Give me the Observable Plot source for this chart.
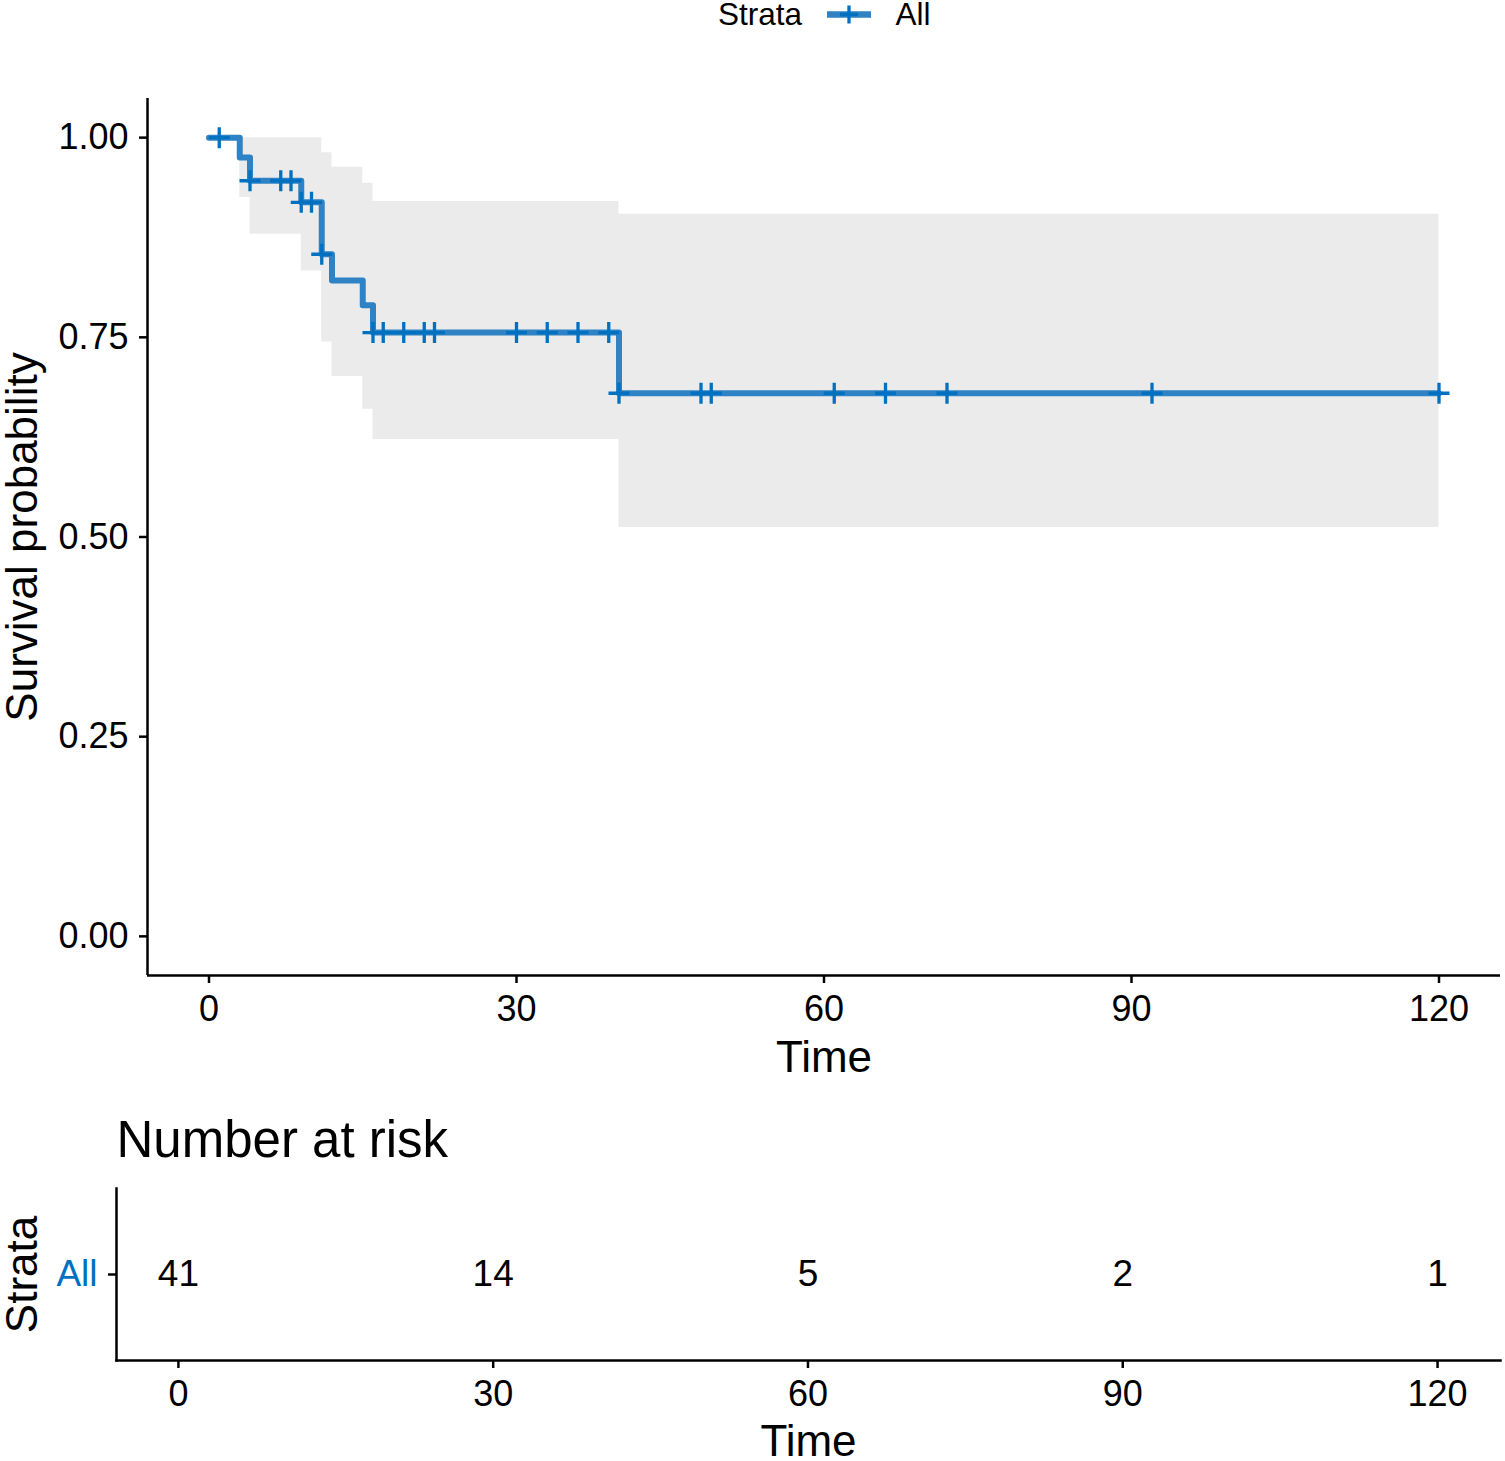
<!DOCTYPE html>
<html><head><meta charset="utf-8">
<script src="https://cdn.jsdelivr.net/npm/d3@7"></script>
<script src="https://cdn.jsdelivr.net/npm/@observablehq/plot@0.6"></script>
<style>
body{margin:0;background:#fff;}
#chart{position:relative;width:1505px;height:1461px;}
#chart svg{display:block;}
</style>
</head><body><div id="chart"></div>
<script>
// Kaplan-Meier estimate (step function)
const survTime = [0, 3, 4, 9, 11, 12, 15, 16, 40, 120];
const survProb = [1, 0.975, 0.946, 0.919, 0.854, 0.821, 0.790, 0.756, 0.680, 0.680];
// confidence band
const bandTime  = [0, 3, 4, 9, 11, 12, 15, 16, 40, 120];
const bandLower = [1, 0.925, 0.879, 0.833, 0.744, 0.701, 0.660, 0.622, 0.512, 0.512];
const bandUpper = [1, 1, 1, 1, 0.981, 0.963, 0.943, 0.920, 0.904, 0.904];
// censoring times
const censorTime = [1, 4, 7, 8, 9, 10, 11, 16, 17, 19, 21, 22, 30, 33, 36, 39, 40, 48, 49, 61, 66, 72, 92, 120];
// number at risk table
const strata = ["All"];
const riskTime = [0, 30, 60, 90, 120];
const riskN = [41, 14, 5, 2, 1];
const xTicks = [0, 30, 60, 90, 120];
const yTicks = [0, 0.25, 0.5, 0.75, 1];

const FONT = '"Liberation Sans", Arial, sans-serif';
const LINE = "#2f82c4";
const MARK = "#0070c0";

const surv = survTime.map((t, i) => ({time: t, surv: survProb[i]}));
const band = bandTime.map((t, i) => ({time: t, lower: bandLower[i], upper: bandUpper[i]}));
function survAt(t) { let s = 1; survTime.forEach((st, i) => { if (st <= t) s = survProb[i]; }); return s; }
const censors = censorTime.map(t => ({time: t, surv: survAt(t)}));
const risk = riskTime.map((t, i) => ({time: t, strata: strata[0], n: riskN[i]}));

const plusSymbol = {draw(ctx, size) { const r = Math.sqrt(size / Math.PI); ctx.moveTo(-r, 0); ctx.lineTo(r, 0); ctx.moveTo(0, -r); ctx.lineTo(0, r); }};
const hLineSymbol = {draw(ctx, size) { const r = Math.sqrt(size / Math.PI); ctx.moveTo(-r, 0); ctx.lineTo(r, 0); }};

const xDomain = [-6, 126];
const yDomain = [-0.049, 1.049];

const p1 = Plot.plot({
  width: 1505, height: 1090,
  marginTop: 98, marginBottom: 115, marginLeft: 147, marginRight: 5,
  style: {fontFamily: FONT, background: "white", overflow: "visible", color: "black"},
  x: {domain: xDomain, label: null},
  y: {domain: yDomain, label: null},
  marks: [
    Plot.areaY(band, {x: "time", y1: "lower", y2: "upper", curve: "step-after", fill: "#ebebeb"}),
    Plot.line(surv, {x: "time", y: "surv", curve: "step-after", stroke: LINE, strokeWidth: 6}),
    Plot.dot(censors, {x: "time", y: "surv", symbol: plusSymbol, r: 10.5, stroke: MARK, strokeWidth: 3.3, fill: "none"}),
    Plot.ruleX([xDomain[0]], {stroke: "black", strokeWidth: 2.5}),
    Plot.ruleY([yDomain[0]], {stroke: "black", strokeWidth: 2.5}),
    Plot.axisY({ticks: yTicks, tickFormat: d3.format(".2f"), tickSize: 8, tickPadding: 11, fontSize: 36, strokeWidth: 2.5, label: null}),
    Plot.axisX({ticks: xTicks, tickSize: 8, tickPadding: 12, fontSize: 36, strokeWidth: 2.5, label: null}),
    Plot.text(["Time"], {frameAnchor: "bottom", dy: 82, lineAnchor: "middle", textAnchor: "middle", fontSize: 44}),
    Plot.text(["Survival probability"], {frameAnchor: "left", rotate: -90, dx: -125, textAnchor: "middle", lineAnchor: "middle", fontSize: 44}),
    // legend
    Plot.text(["Strata"], {frameAnchor: "top", dx: -22, dy: -84, textAnchor: "end", lineAnchor: "middle", fontSize: 31.5}),
    Plot.dot([0], {frameAnchor: "top", dx: 25, dy: -84, symbol: hLineSymbol, r: 22, stroke: LINE, strokeWidth: 6.5, fill: "none"}),
    Plot.dot([0], {frameAnchor: "top", dx: 25, dy: -84, symbol: plusSymbol, r: 9, stroke: MARK, strokeWidth: 3.3, fill: "none"}),
    Plot.text(["All"], {frameAnchor: "top", dx: 71.5, dy: -84, textAnchor: "start", lineAnchor: "middle", fontSize: 31.5})
  ]
});

const x2Domain = [-5.9, 126];
const p2 = Plot.plot({
  width: 1505, height: 371,
  marginTop: 98, marginBottom: 101, marginLeft: 116, marginRight: 5,
  style: {fontFamily: FONT, background: "white", overflow: "visible", color: "black"},
  x: {domain: x2Domain, label: null},
  y: {domain: strata, type: "point", label: null},
  marks: [
    Plot.frame({anchor: "left", stroke: "black", strokeWidth: 2.5}),
    Plot.frame({anchor: "bottom", stroke: "black", strokeWidth: 2.5}),
    Plot.axisY({tickSize: 8, tickPadding: 11, fontSize: 37, strokeWidth: 2.5, fill: MARK, stroke: "black", label: null}),
    Plot.axisX({ticks: xTicks, tickSize: 8, tickPadding: 12, fontSize: 36, strokeWidth: 2.5, label: null}),
    Plot.text(risk, {x: "time", y: "strata", text: "n", fontSize: 37}),
    Plot.text(["Time"], {frameAnchor: "bottom", dy: 81, lineAnchor: "middle", textAnchor: "middle", fontSize: 44}),
    Plot.text(["Strata"], {frameAnchor: "left", rotate: -90, dx: -94, textAnchor: "middle", lineAnchor: "middle", fontSize: 44}),
    Plot.text(["Number at risk"], {frameAnchor: "top-left", dy: -48, textAnchor: "start", lineAnchor: "middle", fontSize: 51})
  ]
});

const chart = document.getElementById("chart");
chart.appendChild(p1);
chart.appendChild(p2);
</script>
</body></html>
